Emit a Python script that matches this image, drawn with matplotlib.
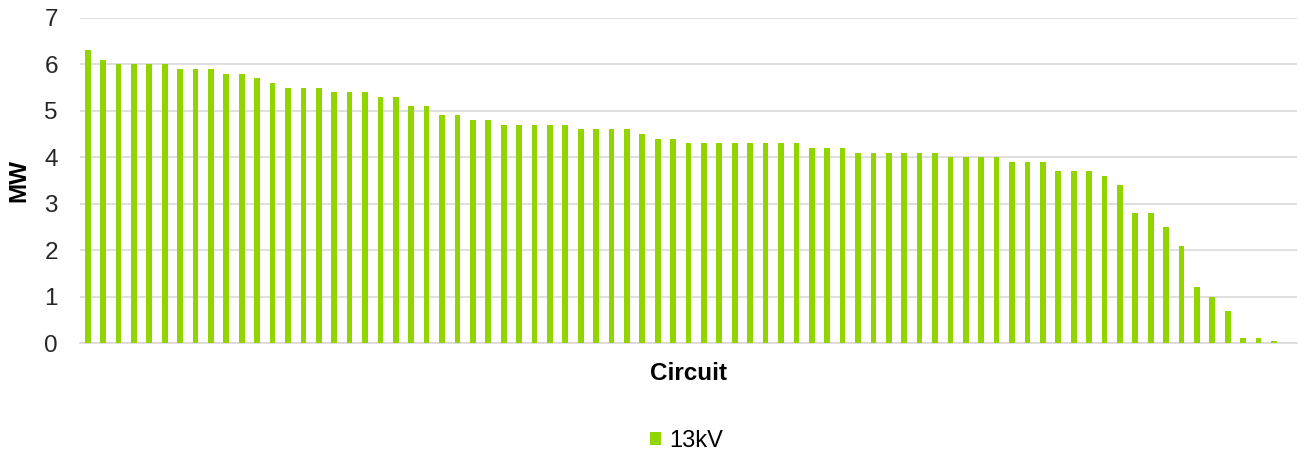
import matplotlib.pyplot as plt
import numpy as np

plt.rcParams['font.family'] = ['Liberation Sans', 'DejaVu Sans']

# MW per circuit, sorted high to low
mw_13kv = [6.3, 6.1, 6.0, 6.0, 6.0, 6.0, 5.9, 5.9, 5.9, 5.8,
           5.8, 5.7, 5.6, 5.5, 5.5, 5.5, 5.4, 5.4, 5.4, 5.3,
           5.3, 5.1, 5.1, 4.9, 4.9, 4.8, 4.8, 4.7, 4.7, 4.7,
           4.7, 4.7, 4.6, 4.6, 4.6, 4.6, 4.5, 4.4, 4.4, 4.3,
           4.3, 4.3, 4.3, 4.3, 4.3, 4.3, 4.3, 4.2, 4.2, 4.2,
           4.1, 4.1, 4.1, 4.1, 4.1, 4.1, 4.0, 4.0, 4.0, 4.0,
           3.9, 3.9, 3.9, 3.7, 3.7, 3.7, 3.6, 3.4, 2.8, 2.8,
           2.5, 2.1, 1.2, 1.0, 0.7, 0.1, 0.1, 0.05]
y_ticks = [0, 1, 2, 3, 4, 5, 6, 7]

fig = plt.figure(figsize=(13.05, 4.53), dpi=100)
ax = fig.add_axes([0.0613, 0.2428, 0.9326, 0.7175])

x = np.arange(len(mw_13kv))
ax.bar(x, mw_13kv, width=0.37, color='#92D400', label='13kV', zorder=3)

# one empty slot is left at the right end, as in the original
ax.set_xlim(-0.5, len(mw_13kv) + 0.5)
ax.set_ylim(0, 7)
ax.set_yticks(y_ticks)
ax.set_xticks([])
ax.yaxis.grid(True, color='#D9D9D9', linewidth=1.2, zorder=0)
for side in ['top', 'right', 'left']:
    ax.spines[side].set_visible(False)
ax.spines['bottom'].set_color('#D9D9D9')
ax.spines['bottom'].set_linewidth(1.2)
ax.tick_params(axis='y', length=0, pad=16, labelsize=17.5, labelcolor='#262626')

ax.set_ylabel('MW', fontsize=17.5, fontweight='bold', labelpad=10)
ax.set_xlabel('Circuit', fontsize=17.5, fontweight='bold', labelpad=14)

fig.legend(loc='lower center', bbox_to_anchor=(0.526, -0.045), frameon=False,
           fontsize=17, handlelength=0.45, handleheight=0.45, handletextpad=0.35)

fig.savefig('out.png', dpi=100)
